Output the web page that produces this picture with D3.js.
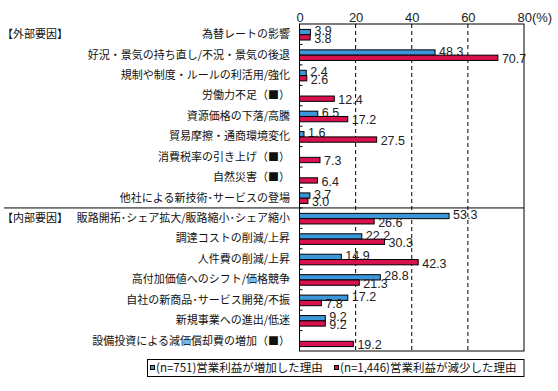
<!DOCTYPE html>
<html>
<head>
<meta charset="utf-8">
<script src="https://cdn.jsdelivr.net/npm/d3@7"></script>
<style>
  body { margin: 0; background: #fff; }
  .cat { font-family: "Noto Sans CJK JP", sans-serif; font-size: 11px; fill: #111; }
  .num { font-family: "Liberation Sans", sans-serif; font-size: 12.5px; fill: #222; }
</style>
</head>
<body>
<div class="canvas"></div>
<script>
const categories = [
  "為替レートの影響",
  "好況・景気の持ち直し/不況・景気の後退",
  "規制や制度・ルールの利活用/強化",
  "労働力不足（■）",
  "資源価格の下落/高騰",
  "貿易摩擦・通商環境変化",
  "消費税率の引き上げ（■）",
  "自然災害（■）",
  "他社による新技術･サービスの登場",
  "販路開拓･シェア拡大/販路縮小･シェア縮小",
  "調達コストの削減/上昇",
  "人件費の削減/上昇",
  "高付加価値へのシフト/価格競争",
  "自社の新商品･サービス開発/不振",
  "新規事業への進出/低迷",
  "設備投資による減価償却費の増加（■）"
];
const increased = [3.9, 48.3, 2.4, null, 6.5, 1.6, null, null, 3.7, 53.3, 22.2, 14.9, 28.8, 17.2, 9.2, null];
const decreased = [3.8, 70.7, 2.6, 12.4, 17.2, 27.5, 7.3, 6.4, 3.0, 26.6, 30.3, 42.3, 21.3, 7.8, 9.2, 19.2];
const groups = ["【外部要因】", "【内部要因】"];
const groupStart = [0, 9];
const xTicks = [0, 20, 40, 60, 80];
const legendLabels = ["(n=751)営業利益が増加した理由", "(n=1,446)営業利益が減少した理由"];
const colors = ["#3b96da", "#d8124f"];

const width = 558, height = 391;
const plot = { left: 299.5, right: 524, top: 24, bottom: 351 };

const svg = d3.select(".canvas").append("svg")
  .attr("width", width).attr("height", height);

const x = d3.scaleLinear().domain([0, 80]).range([plot.left, plot.right]);
const y = d3.scaleBand().domain(categories).range([plot.top, plot.bottom]);
const barH = 5.3;

// dashed grid
svg.append("g").selectAll("line").data([20, 40, 60]).join("line")
  .attr("x1", d => x(d)).attr("x2", d => x(d))
  .attr("y1", plot.top).attr("y2", plot.bottom)
  .attr("stroke", "#000").attr("stroke-dasharray", "4,3");

// plot frame
svg.append("rect")
  .attr("x", plot.left).attr("y", plot.top)
  .attr("width", plot.right - plot.left).attr("height", plot.bottom - plot.top)
  .attr("fill", "none").attr("stroke", "#000");

// small ticks at band boundaries
svg.append("g").selectAll("line").data(categories.slice(1)).join("line")
  .attr("x1", plot.left).attr("x2", plot.left + 3)
  .attr("y1", d => y(d)).attr("y2", d => y(d))
  .attr("stroke", "#000");

// divider between groups
svg.append("line")
  .attr("x1", 4).attr("x2", plot.right)
  .attr("y1", y(categories[groupStart[1]])).attr("y2", y(categories[groupStart[1]]))
  .attr("stroke", "#000");

// top axis
const xAxis = d3.axisTop(x).tickValues(xTicks).tickSize(0).tickPadding(2);
const axisG = svg.append("g")
  .attr("transform", `translate(0,${plot.top})`)
  .call(xAxis);
axisG.select(".domain").remove();
axisG.selectAll("text").attr("class", "num").attr("font-family", null).attr("font-size", null)
  .style("font-size", "13px");
axisG.selectAll(".tick").filter(d => d === 80).select("text")
  .attr("text-anchor", "start").attr("x", -7).text("80(%)");

// bars
const center = d => y(d) + y.bandwidth() / 2 + 0.5;
const series = [increased, decreased];
series.forEach((vals, si) => {
  const data = categories.map((c, i) => ({ c, v: vals[i] })).filter(d => d.v != null);
  svg.append("g").selectAll("rect").data(data).join("rect")
    .attr("x", x(0))
    .attr("y", d => center(d.c) - barH + si * barH)
    .attr("width", d => x(d.v) - x(0))
    .attr("height", barH)
    .attr("fill", colors[si])
    .attr("stroke", "#000").attr("stroke-width", 1);
  svg.append("g").selectAll("text").data(data).join("text")
    .attr("class", "num")
    .attr("x", d => x(d.v) + 4)
    .attr("y", d => center(d.c) + (si === 0 ? -4 : 3.5))
    .attr("dy", "0.36em")
    .text(d => d.v.toFixed(1));
});

// category labels
svg.append("g").selectAll("text").data(categories).join("text")
  .attr("class", "cat")
  .attr("x", 290).attr("y", d => y(d) + y.bandwidth() / 2)
  .attr("dy", "0.35em").attr("text-anchor", "end")
  .text(d => d);

svg.append("g").selectAll("text").data(groups).join("text")
  .attr("class", "cat")
  .attr("x", 2).attr("y", (d, i) => y(categories[groupStart[i]]) + y.bandwidth() / 2 - 0.5)
  .attr("dy", "0.35em")
  .text(d => d);

// legend
const lg = svg.append("g");
lg.append("rect").attr("x", 147.5).attr("y", 359.5).attr("width", 376.5).attr("height", 17)
  .attr("fill", "#fff").attr("stroke", "#000");
const legendX = [150, 334];
legendLabels.forEach((t, i) => {
  lg.append("rect").attr("x", legendX[i] + 0.5).attr("y", 365.5).attr("width", 4).attr("height", 4)
    .attr("fill", colors[i]).attr("stroke", "#000");
  lg.append("text").attr("class", "cat").style("font-size", "11.5px")
    .attr("x", legendX[i] + 6).attr("y", 368).attr("dy", "0.35em")
    .text(t);
});
</script>
</body>
</html>
